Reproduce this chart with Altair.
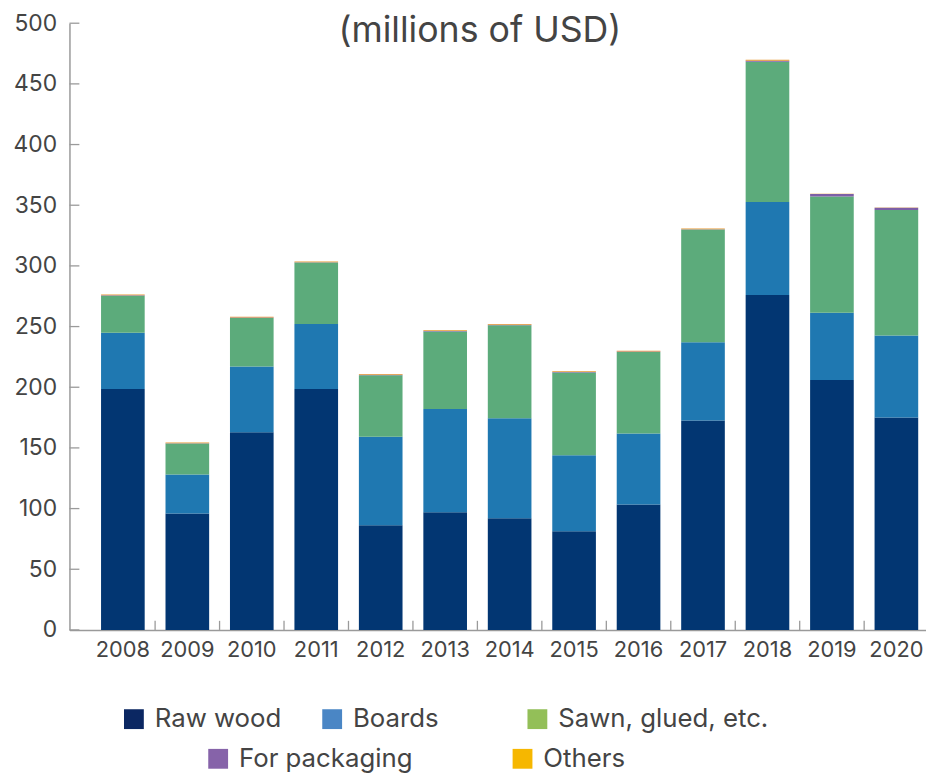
import altair as alt
import pandas as pd

years = [2008, 2009, 2010, 2011, 2012, 2013, 2014, 2015, 2016, 2017, 2018, 2019, 2020]
raw_wood = [198.5, 96, 163, 198.5, 86.3, 97, 92, 81.4, 103.4, 172.6, 276, 206, 175]
boards = [46.5, 32, 54, 53.7, 73, 85, 82.5, 62.6, 58.4, 64.4, 76.6, 55.4, 67.7]
sawn = [30.5, 25.6, 40, 50.5, 50.6, 64, 76.6, 68.2, 67.3, 92.9, 115.7, 95.8, 103.3]
packaging = [0.4, 0.3, 0.4, 0.4, 0.4, 0.4, 0.5, 0.4, 0.4, 0.4, 0.7, 2.0, 1.9]
others = [0.6, 0.5, 0.6, 0.6, 0.6, 0.6, 0.6, 0.5, 0.5, 0.6, 0.9, 0.3, 0.3]

categories = ["Raw wood", "Boards", "Sawn, glued, etc.", "For packaging", "Others"]
bar_colors = ["#023672", "#1f78b1", "#5cab7b", "#7d5fa6", "#e8962e"]
legend_colors = ["#0b2762", "#4a86c5", "#93bf58", "#8663a9", "#f6b700"]
y_ticks = [0, 50, 100, 150, 200, 250, 300, 350, 400, 450, 500]
title_text = "(millions of USD)"

FONT = "Inter"
TEXT = "#444444"
AXIS = "#9a9a9a"

series = [raw_wood, boards, sawn, packaging, others]
rows = []
for ci, (cat, vals) in enumerate(zip(categories, series)):
    for y, v in zip(years, vals):
        rows.append({"year": y, "cat": cat, "value": v, "idx": ci})
df = pd.DataFrame(rows)

xscale = alt.Scale(paddingInner=0.323, paddingOuter=0.49, range=[0, 888])
yscale = alt.Scale(domain=[0, 500], nice=False)

bars = alt.Chart(df).mark_bar().encode(
    x=alt.X("year:O", scale=xscale,
            axis=alt.Axis(title=None, labelAngle=0, ticks=False, labelPadding=10,
                          labelFontSize=22)),
    y=alt.Y("value:Q", stack="zero", scale=yscale,
            axis=alt.Axis(title=None, values=y_ticks, ticks=False, labelPadding=13,
                          labelFontSize=23)),
    color=alt.Color("cat:N", scale=alt.Scale(domain=categories, range=bar_colors),
                    legend=None),
    order=alt.Order("idx:Q", sort="ascending"),
)

xtick_df = pd.DataFrame({"year": years[1:]})
xticks = alt.Chart(xtick_df).mark_rule(color=AXIS, strokeWidth=1.3, xOffset=-10.5).encode(
    x=alt.X("year:O", bandPosition=0),
    y=alt.datum(0),
    y2=alt.datum(7.5),
)

ytick_df = pd.DataFrame({"value": y_ticks})
yticks = alt.Chart(ytick_df).mark_rule(color=AXIS, strokeWidth=1.3).encode(
    y=alt.Y("value:Q"),
    x=alt.value(0),
    x2=alt.value(10),
)


def legend_layer(cats, colors, lx, ly, colpad):
    d = pd.DataFrame({"cat": cats})
    return alt.Chart(d).mark_square(opacity=0).encode(
        color=alt.Color(
            "cat:N",
            scale=alt.Scale(domain=cats, range=colors),
            legend=alt.Legend(
                orient="none", legendX=lx, legendY=ly, direction="horizontal",
                title=None, symbolType="square", symbolSize=400, symbolOpacity=1,
                symbolStrokeWidth=0, labelFont=FONT, labelFontSize=26,
                labelColor=TEXT, labelOffset=8, labelLimit=400,
                columnPadding=colpad, padding=0,
            ),
        )
    )


leg1 = legend_layer(categories[0:2], legend_colors[0:2], 52, 689, 38)
leg2 = legend_layer(categories[2:3], legend_colors[2:3], 459, 689, 0)
leg3 = legend_layer(categories[3:5], legend_colors[3:5], 137, 729, 97)

chart = alt.layer(bars, xticks, yticks, leg1, leg2, leg3).resolve_scale(
    color="independent"
).properties(
    width=864,
    height=612,
    title=alt.TitleParams(title_text, fontSize=36, font=FONT, color=TEXT,
                          fontWeight="normal", offset=-38, anchor="middle",
                          dx=-18),
    autosize=alt.AutoSizeParams(type="none"),
    padding={"left": 62, "top": 12, "right": 0, "bottom": 144},
).configure_view(stroke=None).configure_axis(
    domainColor=AXIS, domainWidth=1.5, labelColor=TEXT, labelFont=FONT, grid=False,
)

chart.save("out.html", embed_options={"renderer": "svg", "actions": False})
